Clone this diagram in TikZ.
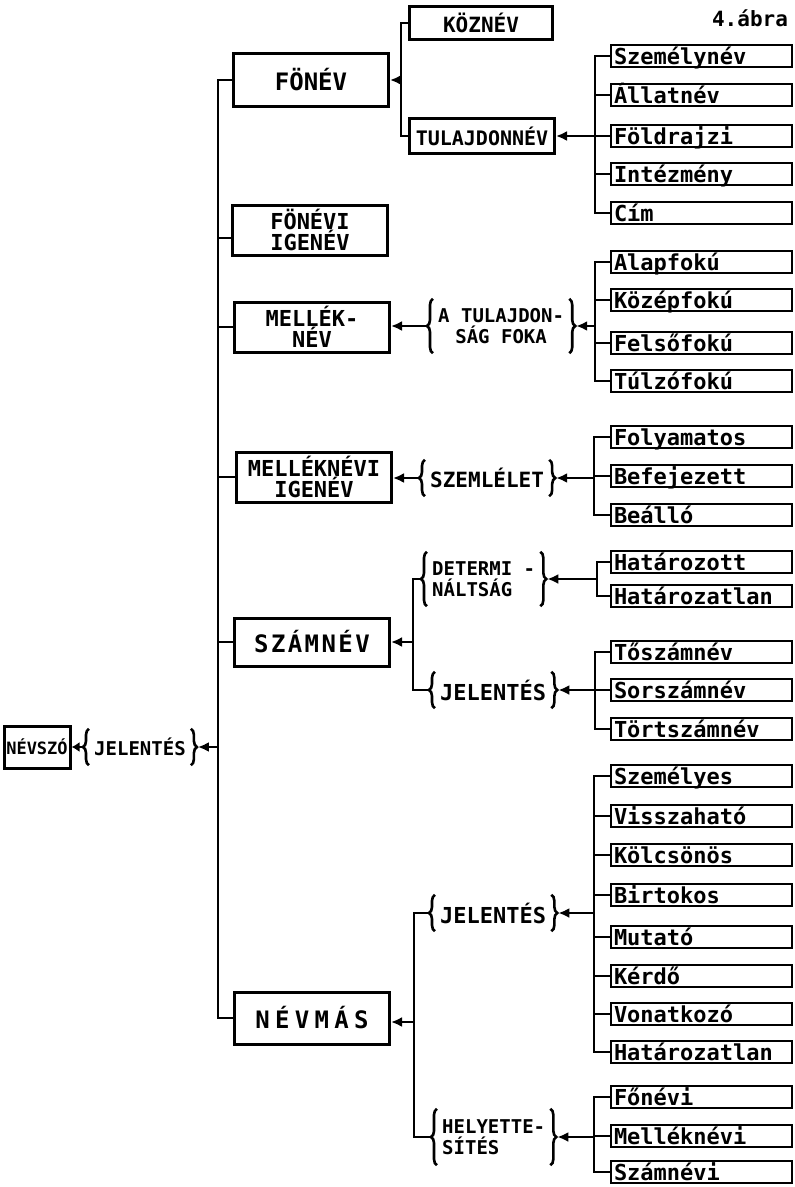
\documentclass[tikz,border=0pt]{standalone}
\usepackage{fontspec}
\setmainfont{DejaVu Sans Mono}
\newfontfamily\spacedA[LetterSpace=10]{DejaVu Sans Mono}
\newfontfamily\spacedB[LetterSpace=22]{DejaVu Sans Mono}
\usetikzlibrary{arrows.meta,decorations.pathreplacing,calc}
\newcommand\myfs[2]{\fontsize{#1}{#2}\selectfont\bfseries}
\tikzset{
  mainbox/.style={draw, line width=3pt, minimum width=155pt, minimum height=50pt, inner sep=2pt, align=center, font=\myfs{22}{21}},
  midbox/.style={draw, line width=3pt, inner sep=0pt},
  leaf/.style={draw, line width=2.8pt, text width=175pt, inner xsep=3pt, inner ysep=0pt, minimum height=22pt, text height=18pt, text depth=1pt, align=left, font=\myfs{22}{22}},
  brnode/.style={inner xsep=12pt, inner ysep=3pt, anchor=west},
  brc/.style={decorate, decoration={brace, amplitude=6pt}, line width=2.6pt},
  conn/.style={line width=2.8pt},
  arr/.style={line width=2.8pt, -{Latex[length=11pt,width=10pt]}},
}
\begin{document}
\begin{tikzpicture}[x=1pt,y=-1pt]
\path[use as bounding box] (0,0) rectangle (795,1187);

\node[font=\myfs{21}{21}] (title) at (750,18) {4.ábra};

% root
\node[draw, line width=3pt, minimum width=66pt, minimum height=42pt, inner sep=0pt, font=\myfs{17}{17}] (nevszo) at (37,747) {NÉVSZÓ};
\node[brnode, minimum height=36pt, font=\myfs{19}{19}] (jel0) at (82,747) {JELENTÉS};
\coordinate (J0) at (218,747);
\draw[arr] (J0) -- (jel0.east);
\draw[line width=2.6pt, -{Latex[length=8pt,width=10pt]}] (jel0.west) -- (nevszo.east);

% main boxes
\node[mainbox, minimum height=53pt, font=\myfs{24}{24}] (fonev) at (311,80) {FÖNÉV};
\node[mainbox] (fonevi) at (310,230) {FÖNÉVI\\IGENÉV};
\node[mainbox] (mellek) at (312,327) {MELLÉK-\\NÉV};
\node[mainbox] (mellekig) at (314,477) {MELLÉKNÉVI\\IGENÉV};
\node[mainbox, minimum height=48pt, font={\spacedA\myfs{24}{24}}] (szamnev) at (312,642) {SZÁMNÉV};
\node[mainbox, minimum height=52pt, font={\spacedB\myfs{24}{24}}] (nevmas) at (312,1018) {NÉVMÁS};

\foreach \c in {fonev,mellek,mellekig,szamnev,nevmas} \draw[conn] (J0) |- (\c.west);
\draw[conn] (J0) |- ([yshift=-8pt]fonevi.west);

% FONEV group
\coordinate (J1) at (401,80);
\draw[arr] (J1) -- (J1 -| fonev.east);
\node[midbox, minimum width=143pt, minimum height=33pt, font=\myfs{21}{21}] (koznev) at (481,23) {KÖZNÉV};
\node[midbox, minimum width=145pt, minimum height=35pt, font=\myfs{20}{20}] (tulaj) at (482,136) {TULAJDONNÉV};
\draw[conn] (J1) |- (koznev.west);
\draw[conn] (J1) |- (tulaj.west);

\coordinate (J2) at (595,136);
\draw[arr] (J2) -- (J2 -| tulaj.east);
\foreach \n/\y/\txt in {l11/56/Személynév, l12/95/Állatnév, l13/136/Földrajzi, l14/174/Intézmény, l15/213/Cím} {
  \node[leaf] (\n) at (701.5,\y) {\txt};
  \draw[conn] (J2) |- (\n.west);
}

% MELLEKNEV group
\node[brnode, minimum height=54pt, font=\myfs{19}{21}, align=center] (fok) at (426,326) {A TULAJDON-\\SÁG FOKA};
\draw[arr] (fok.west) -- (fok.west -| mellek.east);
\coordinate (J3) at (595,326);
\draw[arr] (J3) -- (J3 -| fok.east);
\foreach \n/\y/\txt in {l21/262/Alapfokú, l22/300/Középfokú, l23/343/Felsőfokú, l24/381/Túlzófokú} {
  \node[leaf] (\n) at (701.5,\y) {\txt};
  \draw[conn] (J3) |- (\n.west);
}

% MELLEKNEVI IGENEV group
\node[brnode, minimum height=36pt, font=\myfs{21}{21}] (szeml) at (418,478) {SZEMLÉLET};
\draw[arr] (szeml.west) -- (szeml.west -| mellekig.east);
\coordinate (J6) at (594,478);
\draw[arr] (J6) -- (J6 -| szeml.east);
\foreach \n/\y/\txt in {l31/437/Folyamatos, l32/476/Befejezett, l33/515/Beálló} {
  \node[leaf] (\n) at (701.5,\y) {\txt};
  \draw[conn] (J6) |- (\n.west);
}

% SZAMNEV group
\coordinate (J4) at (413,642);
\draw[arr] (J4) -- (J4 -| szamnev.east);
\node[brnode, minimum height=54pt, font=\myfs{19}{21}, align=left] (determ) at (420,579) {DETERMI -\\NÁLTSÁG};
\node[brnode, minimum height=36pt, font=\myfs{22}{22}] (jelsz) at (428,690) {JELENTÉS};
\draw[conn] (J4) |- (determ.west);
\draw[conn] (J4) |- (jelsz.west);

\coordinate (J7) at (597,579);
\draw[arr] (J7) -- (J7 -| determ.east);
\foreach \n/\y/\txt in {l41/562/Határozott, l42/596/Határozatlan} {
  \node[leaf] (\n) at (701.5,\y) {\txt};
  \draw[conn] (J7) |- (\n.west);
}
\coordinate (J8) at (595,690);
\draw[arr] (J8) -- (J8 -| jelsz.east);
\foreach \n/\y/\txt in {l51/652/Tőszámnév, l52/690/Sorszámnév, l53/729/Törtszámnév} {
  \node[leaf] (\n) at (701.5,\y) {\txt};
  \draw[conn] (J8) |- (\n.west);
}

% NEVMAS group
\coordinate (J5) at (414,1022);
\draw[arr] (J5) -- (J5 -| nevmas.east);
\node[brnode, minimum height=36pt, font=\myfs{22}{22}] (jelnv) at (428,913) {JELENTÉS};
\node[brnode, minimum height=56pt, font=\myfs{19}{21}, align=left] (helyett) at (430,1137) {HELYETTE-\\SÍTÉS};
\draw[conn] (J5) |- (jelnv.west);
\draw[conn] (J5) |- (helyett.west);

\coordinate (J9) at (594,913);
\draw[arr] (J9) -- (J9 -| jelnv.east);
\foreach \n/\y/\txt in {l61/776/Személyes, l62/816/Visszaható, l63/855/Kölcsönös, l64/895/Birtokos, l65/937/Mutató, l66/976/Kérdő, l67/1014/Vonatkozó, l68/1052/Határozatlan} {
  \node[leaf] (\n) at (701.5,\y) {\txt};
  \draw[conn] (J9) |- (\n.west);
}
\coordinate (J10) at (594,1137);
\draw[arr] (J10) -- (J10 -| helyett.east);
\foreach \n/\y/\txt in {l71/1097/Főnévi, l72/1136/Melléknévi, l73/1172/Számnévi} {
  \node[leaf] (\n) at (701.5,\y) {\txt};
  \draw[conn] (J10) |- (\n.west);
}

% braces
\foreach \n in {jel0,fok,szeml,determ,jelsz,jelnv,helyett} {
  \draw[brc] ([xshift=7pt]\n.south west) -- ([xshift=7pt]\n.north west);
  \draw[brc] ([xshift=-7pt]\n.north east) -- ([xshift=-7pt]\n.south east);
}
\end{tikzpicture}
\end{document}
